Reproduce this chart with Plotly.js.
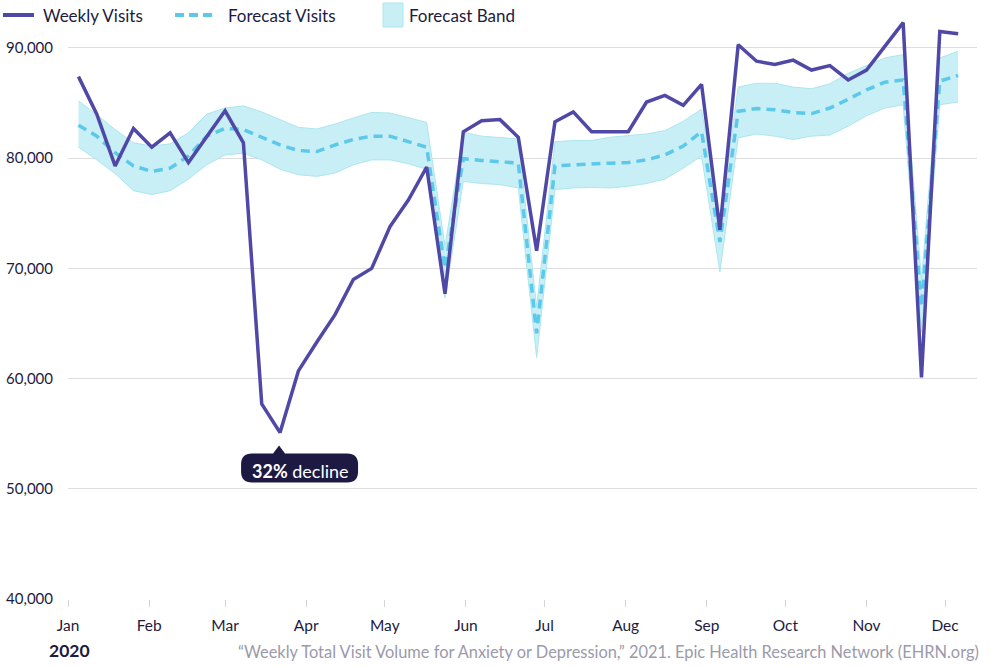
<!DOCTYPE html>
<html>
<head>
<meta charset="utf-8">
<script src="https://cdn.plot.ly/plotly-3.0.1.min.js"></script>
<style>
  html, body { margin: 0; padding: 0; background: #ffffff; }
  #chart { width: 999px; height: 667px; }
</style>
</head>
<body>
<div id="chart"></div>
<script>
// Weekly total visit volume for anxiety or depression, 2020 (week starting Sunday)
const weekDates = [
  '2020-01-05','2020-01-12','2020-01-19','2020-01-26','2020-02-02','2020-02-09','2020-02-16',
  '2020-02-23','2020-03-01','2020-03-08','2020-03-15','2020-03-22','2020-03-29','2020-04-05',
  '2020-04-12','2020-04-19','2020-04-26','2020-05-03','2020-05-10','2020-05-17','2020-05-24',
  '2020-05-31','2020-06-07','2020-06-14','2020-06-21','2020-06-28','2020-07-05','2020-07-12',
  '2020-07-19','2020-07-26','2020-08-02','2020-08-09','2020-08-16','2020-08-23','2020-08-30',
  '2020-09-06','2020-09-13','2020-09-20','2020-09-27','2020-10-04','2020-10-11','2020-10-18',
  '2020-10-25','2020-11-01','2020-11-08','2020-11-15','2020-11-22','2020-11-29','2020-12-06'
];

const weeklyVisits = [
  87400, 84000, 79300, 82700, 81000, 82300, 79600,
  81900, 84300, 81400, 57700, 55100, 60700, 63300,
  65800, 69000, 70000, 73800, 76200, 79200, 67700,
  82400, 83400, 83500, 81900, 71600, 83300, 84200,
  82400, 82400, 82400, 85100, 85700, 84800, 86700,
  73500, 90300, 88800, 88500, 88900, 88000, 88400,
  87100, 88000, 90100, 92300, 60100, 91500, 91300
];

const forecastVisits = [
  83000, 82000, 80500, 79300, 78800, 79100, 80200,
  82000, 82700, 82600, 81900, 81200, 80700, 80600,
  81200, 81700, 82000, 82000, 81500, 81000, 70000,
  79950, 79800, 79700, 79550, 64100, 79300, 79400,
  79500, 79550, 79600, 79850, 80300, 81100, 82400,
  72400, 84250, 84500, 84400, 84150, 84050, 84550,
  85350, 86200, 86900, 87100, 66500, 87000, 87500
];

const bandUpper = [
  85200, 83950, 82600, 81400, 81100, 81300, 82300,
  84000, 84550, 84750, 84200, 83500, 82800, 82650,
  83100, 83650, 84150, 84100, 83650, 83250, 72000,
  82350, 82000, 81900, 81750, 66500, 81500, 81600,
  81600, 81900, 82050, 82200, 82500, 83350, 84450,
  74500, 86450, 86800, 86800, 86450, 86300, 86750,
  87700, 88400, 89100, 89400, 69000, 89100, 89700
];

const bandLower = [
  81000, 79850, 78600, 77050, 76700, 77050, 78100,
  79400, 80300, 80450, 79850, 79000, 78500, 78350,
  78650, 79400, 79850, 79850, 79500, 79000, 67300,
  77900, 77700, 77600, 77300, 61900, 77150, 77300,
  77350, 77300, 77450, 77700, 78100, 79100, 80200,
  69700, 81850, 82200, 82000, 81700, 82000, 82100,
  82900, 83850, 84550, 84850, 64200, 84850, 85100
];

const monthTicks = [
  '2020-01-01','2020-02-01','2020-03-01','2020-04-01','2020-05-01','2020-06-01',
  '2020-07-01','2020-08-01','2020-09-01','2020-10-01','2020-11-01','2020-12-01'
];
const yTicks = [40000, 50000, 60000, 70000, 80000, 90000];

const seriesNames = ['Weekly Visits', 'Forecast Visits', 'Forecast Band'];
const yearLabel = '2020';
const sourceText = '\u201cWeekly Total Visit Volume for Anxiety or Depression,\u201d 2021. Epic Health Research Network (EHRN.org)';

// Palette
const PURPLE = '#5048a6';
const CYAN = '#5cc8ea';
const BAND_FILL = '#c8eff5';
const BAND_EDGE = '#ace6ef';
const INK = '#1d1b3f';
const GREY_TEXT = '#9b9aab';
const GRID = '#dddddd';
const FONT = 'Lato, "Open Sans", sans-serif';

// Deepest week of the spring drop, and its shortfall against the forecast
let lowIdx = 0;
for (let i = 0; i < 20; i++) if (weeklyVisits[i] < weeklyVisits[lowIdx]) lowIdx = i;
const declinePct = Math.round((1 - weeklyVisits[lowIdx] / forecastVisits[lowIdx]) * 100);

// Layout geometry (pixels)
const W = 999, H = 667;
const M = { l: 68, r: 22, t: 20, b: 68 };
const plotW = W - M.l - M.r, plotH = H - M.t - M.b;
const px2x = px => (px - M.l) / plotW;
const px2y = py => (H - M.b - py) / plotH;

const traces = [
  {
    x: weekDates, y: bandLower, type: 'scatter', mode: 'lines',
    line: { color: BAND_EDGE, width: 1 }, hoverinfo: 'skip', showlegend: false
  },
  {
    x: weekDates, y: bandUpper, type: 'scatter', mode: 'lines',
    fill: 'tonexty', fillcolor: BAND_FILL,
    line: { color: BAND_EDGE, width: 1 }, name: seriesNames[2], showlegend: false
  },
  {
    x: weekDates, y: forecastVisits, type: 'scatter', mode: 'lines',
    line: { color: CYAN, width: 3.5, dash: '9px,6px' }, name: seriesNames[1], showlegend: false
  },
  {
    x: weekDates, y: weeklyVisits, type: 'scatter', mode: 'lines',
    line: { color: PURPLE, width: 3.5 }, name: seriesNames[0], showlegend: false
  }
];

// Hand-placed legend row
const legY = px2y(15);
const shapes = [
  { type: 'line', xref: 'paper', yref: 'paper', x0: px2x(3), x1: px2x(34), y0: legY, y1: legY,
    line: { color: PURPLE, width: 4 } },
  { type: 'line', xref: 'paper', yref: 'paper', x0: px2x(175), x1: px2x(217), y0: legY, y1: legY,
    line: { color: CYAN, width: 4, dash: '9px,5px' } },
  { type: 'rect', xref: 'paper', yref: 'paper', x0: px2x(383), x1: px2x(403), y0: px2y(27), y1: px2y(3),
    fillcolor: BAND_FILL, line: { color: BAND_EDGE, width: 1 } },
  // Callout pill with pointer under the lowest week
  {
    type: 'path', xref: 'x', yref: 'y', xsizemode: 'pixel', ysizemode: 'pixel',
    xanchor: weekDates[lowIdx], yanchor: weeklyVisits[lowIdx],
    path: 'M -7,-21 L -1,-13 L 5,-21 L 67,-21 Q 78,-21 78,-32 L 78,-39 Q 78,-50 67,-50 ' +
          'L -28,-50 Q -39,-50 -39,-39 L -39,-32 Q -39,-21 -28,-21 Z',
    fillcolor: '#1c1a42', line: { width: 0 }, layer: 'above'
  }
];

const legendText = (txt, px) => ({
  xref: 'paper', yref: 'paper', x: px2x(px), y: legY, xanchor: 'left', yanchor: 'middle',
  text: txt, showarrow: false, font: { family: FONT, size: 17, color: INK }
});

const annotations = [
  legendText(seriesNames[0], 41),
  legendText(seriesNames[1], 226),
  legendText(seriesNames[2], 407),
  {
    xref: 'x', yref: 'y', x: weekDates[lowIdx], y: weeklyVisits[lowIdx],
    xshift: 20, yshift: -38, xanchor: 'center', yanchor: 'middle',
    text: '<b>' + declinePct + '%</b> decline', showarrow: false,
    font: { family: FONT, size: 18, color: '#ffffff' }
  },
  {
    xref: 'paper', yref: 'paper', x: px2x(69), y: px2y(650), xanchor: 'center', yanchor: 'middle',
    text: '<b>' + yearLabel + '</b>', showarrow: false,
    font: { family: FONT, size: 17.5, color: INK }
  },
  {
    xref: 'paper', yref: 'paper', x: px2x(981), y: px2y(651), xanchor: 'right', yanchor: 'middle',
    text: sourceText, showarrow: false,
    font: { family: FONT, size: 16.4, color: GREY_TEXT }
  }
];

const layout = {
  width: W, height: H,
  margin: M,
  paper_bgcolor: '#ffffff', plot_bgcolor: '#ffffff',
  font: { family: FONT, size: 15, color: INK },
  showlegend: false,
  hovermode: false,
  xaxis: {
    type: 'date',
    range: ['2020-01-01', '2020-12-13 05:00'],
    tickvals: monthTicks, tickformat: '%b',
    ticks: 'outside', ticklen: 7, tickwidth: 1, tickcolor: '#d4d4d4',
    ticklabelstandoff: 5,
    showgrid: false, zeroline: false,
    showline: false,
    tickfont: { family: FONT, size: 15.5, color: INK }
  },
  yaxis: {
    range: [40000, 92540],
    tickvals: yTicks, tickformat: ',d',
    showgrid: true, gridcolor: GRID, gridwidth: 1,
    zeroline: false, showline: false, ticks: '',
    ticklabelstandoff: 14,
    tickfont: { family: FONT, size: 15, color: INK }
  },
  shapes: shapes,
  annotations: annotations
};

Plotly.newPlot('chart', traces, layout, { staticPlot: true, displayModeBar: false });
</script>
</body>
</html>
